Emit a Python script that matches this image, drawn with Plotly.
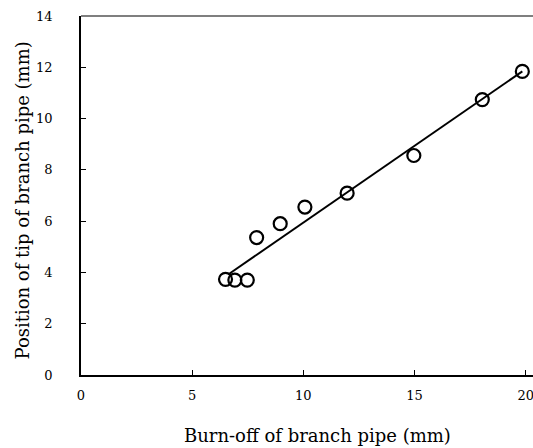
import plotly.graph_objects as go

burn_off = [6.50, 6.92, 7.48, 7.90, 8.96, 10.07, 11.97, 14.97, 18.05, 19.85]
tip_pos = [3.73, 3.70, 3.70, 5.36, 5.90, 6.55, 7.09, 8.56, 10.74, 11.84]
fit_x = [6.62, 19.85]
fit_y = [3.92, 11.84]
x_ticks = [0, 5, 10, 15, 20]
y_ticks = [0, 2, 4, 6, 8, 10, 12, 14]
x_title = "Burn-off of branch pipe (mm)"
y_title = "Position of tip of branch pipe (mm)"

FONT = "DejaVu Serif"

fig = go.Figure()
fig.add_trace(go.Scatter(x=fit_x, y=fit_y, mode="lines", cliponaxis=False,
                         line=dict(color="black", width=2), showlegend=False))
fig.add_trace(go.Scatter(x=burn_off, y=tip_pos, mode="markers", cliponaxis=False,
                         marker=dict(symbol="circle-open", size=13, color="black",
                                     line=dict(width=2.2, color="black")),
                         showlegend=False))

fig.update_layout(
    width=533, height=448,
    margin=dict(l=81, r=0, t=16, b=73),
    paper_bgcolor="white", plot_bgcolor="white",
    font=dict(family=FONT, color="black", size=13),
    xaxis=dict(range=[0, 20.33], tickvals=x_ticks, ticks="inside", ticklen=5,
               tickcolor="black", showline=True, linecolor="black", linewidth=1.5,
               showgrid=False, zeroline=False, ticklabelstandoff=8, automargin=False,
               ticklabeloverflow="allow",
               tickfont=dict(family=FONT, size=13)),
    yaxis=dict(range=[0, 14], tickvals=y_ticks, ticks="inside", ticklen=5,
               tickcolor="black", showline=True, linecolor="black", linewidth=1.5,
               showgrid=False, zeroline=False, ticklabelstandoff=24, automargin=False,
               ticklabeloverflow="allow",
               tickfont=dict(family=FONT, size=13)),
    shapes=[dict(type="line", xref="paper", yref="paper", x0=0, x1=1, y0=1, y1=1,
                 line=dict(color="#555555", width=1.5))],
    annotations=[
        dict(text=x_title, xref="paper", yref="paper", x=0.524, y=0, yshift=-60,
             xanchor="center", yanchor="middle", showarrow=False,
             font=dict(family=FONT, size=18)),
        dict(text=y_title, xref="paper", yref="paper", x=0, y=0.5, xshift=-59, yshift=-5,
             xanchor="center", yanchor="middle", textangle=-90, showarrow=False,
             font=dict(family=FONT, size=18)),
    ],
)

# remove the default 8px page margin so the figure sits at the window's top-left corner
fig.write_html("out.html",
               config={"displayModeBar": False},
               post_script="document.body.style.margin='0';document.body.style.overflow='hidden';")
